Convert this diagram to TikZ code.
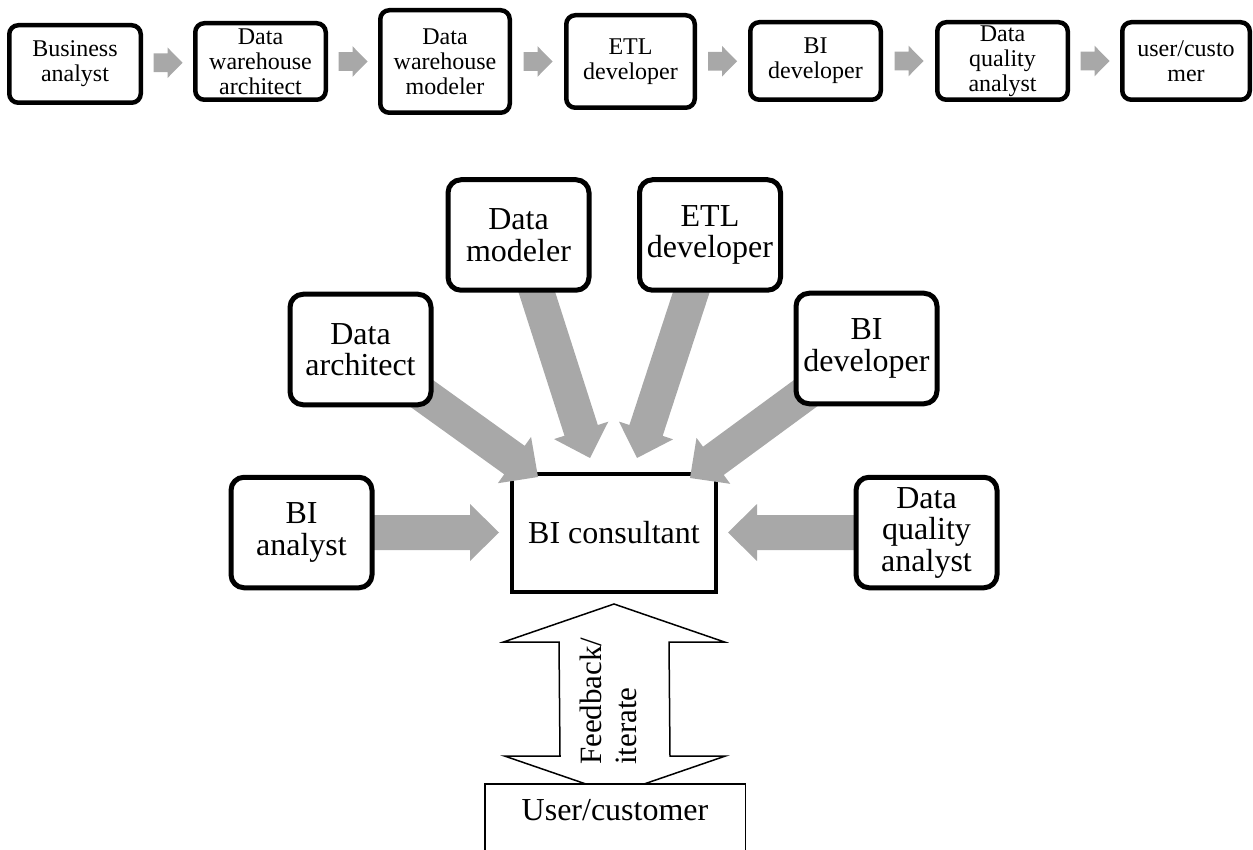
\documentclass[tikz,border=0pt]{standalone}
\usepackage{fontspec}
\setmainfont{Liberation Serif}
\usetikzlibrary{calc}
\pgfdeclarelayer{back}
\pgfdeclarelayer{mid}
\pgfsetlayers{back,mid,main}
\definecolor{arrowgrey}{RGB}{168,168,168}

% block arrow: [style]{start}{tip}{half shaft width}{half head width}{head length}
\newcommand\blockarrow[6][]{%
  \coordinate (ba-h) at ($(#3)!#6!(#2)$);
  \path[#1] ($(#2)!#4!90:(#3)$) -- ($(ba-h)!#4!90:(#3)$) -- ($(ba-h)!#5!90:(#3)$)
    -- (#3) -- ($(ba-h)!#5!-90:(#3)$) -- ($(ba-h)!#4!-90:(#3)$)
    -- ($(#2)!#4!-90:(#3)$) -- cycle;
}

\begin{document}
\begin{tikzpicture}[x=1pt,y=-1pt,
  role/.style={draw, line width=4.5pt, rounded corners=9pt, fill=white,
    align=center, inner sep=0pt, font=\fontsize{24}{25}\selectfont},
  member/.style={draw, line width=5pt, rounded corners=13pt, fill=white,
    align=center, inner sep=0pt, font=\fontsize{32}{31.5}\selectfont,
    minimum width=141pt, minimum height=110.5pt},
  greyarrow/.style={fill=arrowgrey}
]
\useasboundingbox (0,0) rectangle (1253,850);

% --- sequential chain of roles
\node[role, minimum width=131.5pt, minimum height=77.5pt]  (b1) at (75,64)     {Business\\analyst};
\node[role, minimum width=130.5pt, minimum height=76.5pt]  (b2) at (260.5,61.5) {Data\\warehouse\\architect};
\node[role, minimum width=129.5pt, minimum height=102.5pt] (b3) at (445,61.5)   {Data\\warehouse\\modeler};
\node[role, minimum width=128.5pt, minimum height=92.5pt]  (b4) at (630.5,61.5) {ETL\\developer};
\node[role, minimum width=130.5pt, minimum height=77.5pt]  (b5) at (815.5,61)   {BI\\developer};
\node[role, minimum width=130.5pt, minimum height=77.5pt]  (b6) at (1002.5,61)  {Data\\quality\\analyst};
\node[role, minimum width=127.5pt, minimum height=77.5pt]  (b7) at (1186,61)    {user/custo\\mer};

\foreach \a/\b [count=\i] in {b1/b2,b2/b3,b3/b4,b4/b5,b5/b6,b6/b7}{
  \coordinate (m\i) at ($(\a.east)!0.5!(\b.west)$);
  \coordinate (s\i) at ($(m\i)+(-14.5pt,0)$);
  \coordinate (t\i) at ($(m\i)+(14.5pt,0)$);
  \blockarrow[greyarrow]{s\i}{t\i}{9.3pt}{15.3pt}{15pt}
}

% --- team around the consultant
\begin{pgfonlayer}{back}
\node[draw, line width=4pt, fill=white, minimum width=204pt, minimum height=118pt,
  inner sep=0pt, font=\fontsize{32}{32}\selectfont] (cons) at (614,533) {BI consultant};
\end{pgfonlayer}

\node[member] (ana)  at (301.5,532.5) {BI\\analyst};
\node[member] (arch) at (360.5,349.5) {Data\\architect};
\node[member] (mod)  at (518.5,235)   {Data\\modeler};
\node[member] (etl)  at (710,235)     {ETL\\developer};
\node[member] (dev)  at (866.5,348.5) {BI\\developer};
\node[member] (dqa)  at (926.5,532.5) {Data\\quality\\analyst};

\coordinate (tip-ana)  at (499,532.5);
\coordinate (tip-arch) at (538,477);
\coordinate (tip-mod)  at (590,458);
\coordinate (tip-etl)  at (637,458);
\coordinate (tip-dev)  at (690,478);
\coordinate (tip-dqa)  at (728,532.5);

\begin{pgfonlayer}{mid}
\foreach \n in {ana,arch,mod,etl,dev,dqa}{
  \blockarrow[greyarrow]{\n.center}{tip-\n}{17.5pt}{28.5pt}{29pt}
}
\end{pgfonlayer}

% --- customer and feedback loop
\node[draw, line width=1.5pt, fill=white, anchor=north, minimum width=260.5pt,
  inner xsep=0pt, inner ysep=15pt, text height=22pt, text depth=60pt,
  font=\fontsize{32}{32}\selectfont] (user) at (615,783) {User/customer};

\coordinate (fb-top) at ($(cons.south)+(0,-10pt)$);
\coordinate (fb-bot) at ($(user.north)+(0,-11pt)$);
\begin{pgfonlayer}{mid}
\draw[line width=1.5pt, fill=white, line join=miter]
  (fb-top) -- ($(fb-top)+(110.5pt,-38pt)$) -- ($(fb-top)+(55pt,-38pt)$)
  -- ($(fb-bot)+(55pt,38pt)$) -- ($(fb-bot)+(110.5pt,38pt)$) -- (fb-bot)
  -- ($(fb-bot)+(-110.5pt,38pt)$) -- ($(fb-bot)+(-55pt,38pt)$)
  -- ($(fb-top)+(-55pt,-38pt)$) -- ($(fb-top)+(-110.5pt,-38pt)$) -- cycle;
\end{pgfonlayer}

\node[rotate=90, anchor=west, align=left, inner sep=0pt,
  font=\fontsize{31}{35}\selectfont] (fb) at (608,765) {Feedback/\\iterate};
\end{tikzpicture}
\end{document}
